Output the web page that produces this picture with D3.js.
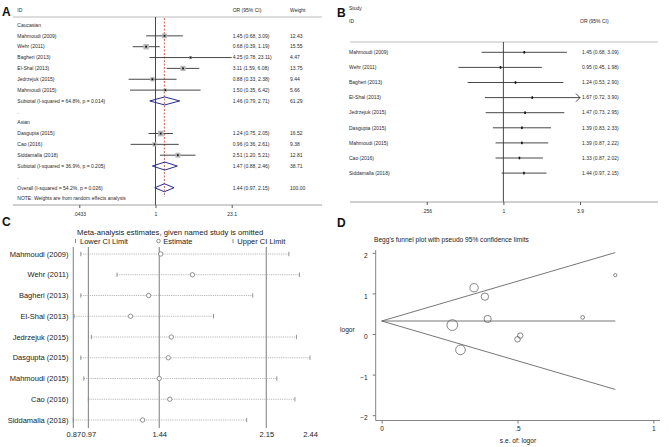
<!DOCTYPE html>
<html><head><meta charset="utf-8">
<script src="https://cdn.jsdelivr.net/npm/d3@7"></script>
<style>body{margin:0;background:#fff}svg{display:block}text{font-family:"Liberation Sans",Arial,sans-serif}</style>
</head><body><svg id="c" width="669" height="447"></svg>
<script>
// ---------- Panel A data ----------
const aLabels = ["Caucasian","Mahmoudi (2009)","Wehr (2011)","Bagheri (2013)","El-Shal (2013)","Jedrzejuk (2015)","Mahmoudi (2015)","Subtotal  (I-squared = 64.8%, p = 0.014)",".","Asian","Dasgupta (2015)","Cao (2016)","Siddamalla (2018)","Subtotal  (I-squared = 36.9%, p = 0.205)",".","Overall  (I-squared = 54.2%, p = 0.026)"];
const aKind = ["group","study","study","study","study","study","study","pool","blank","group","study","study","study","pool","blank","pool"];
const aOR = [null,1.45,0.68,4.25,3.11,0.88,1.50,1.46,null,null,1.24,0.96,2.51,1.47,null,1.44];
const aLo = [null,0.68,0.39,0.78,1.59,0.33,0.35,0.79,null,null,0.75,0.36,1.20,0.88,null,0.97];
const aHi = [null,3.09,1.19,23.11,6.08,2.38,6.42,2.71,null,null,2.05,2.61,5.21,2.46,null,2.15];
const aWeight = [null,12.43,15.55,4.47,13.75,9.44,5.66,61.29,null,null,16.52,9.38,12.81,38.71,null,100.00];
const aTicks = [0.0433,1,23.1];
const aTickLabels = [".0433","1","23.1"];
const aOverall = 1.44;

// ---------- Panel B data ----------
const bLabels = ["Mahmoudi (2009)","Wehr (2011)","Bagheri (2013)","El-Shal (2013)","Jedrzejuk (2015)","Dasgupta (2015)","Mahmoudi (2015)","Cao (2016)","Siddamalla (2018)"];
const bOR = [1.45,0.95,1.24,1.67,1.47,1.39,1.39,1.33,1.44];
const bLo = [0.68,0.45,0.53,0.72,0.73,0.83,0.87,0.87,0.97];
const bHi = [3.09,1.98,2.90,3.90,2.95,2.33,2.22,2.02,2.15];
const bTicks = [0.256,1,3.9];
const bTickLabels = [".256","1","3.9"];

// ---------- Panel C data ----------
const cLabels = ["Mahmoudi (2009)","Wehr (2011)","Bagheri (2013)","El-Shal (2013)","Jedrzejuk (2015)","Dasgupta (2015)","Mahmoudi (2015)","Cao (2016)","Siddamalla (2018)"];
const cLo = [0.92,1.16,0.92,0.875,0.99,0.92,0.94,0.97,0.87];
const cEst = [1.45,1.66,1.37,1.25,1.52,1.50,1.44,1.51,1.33];
const cHi = [2.30,2.37,2.06,1.80,2.35,2.44,2.22,2.34,2.02];
const cRefLines = [0.97,1.44,2.15];
const cTicks = [0.87,0.97,1.44,2.15,2.44];

// ---------- Panel D data ----------
const dLogOR = [0.37,-0.39,1.45,1.14,-0.13,0.41,0.22,-0.04,0.92];
const dSE = [0.39,0.29,0.86,0.34,0.50,0.74,0.26,0.51,0.38];
const dPooled = 0.32;
const dYTicks = [2,1,0,-1,-2];
const dXTicks = [0,0.5,1];
const dXTickLabels = ["0",".5","1"];

const svg = d3.select("#c");
svg.append("rect").attr("width",669).attr("height",447).attr("fill","#fff");
const fmt = d3.format(".2f");
const txtCol = "#2a2a2a";

function panelLetter(t,x,y){svg.append("text").attr("x",x).attr("y",y).attr("font-size",12).attr("font-weight","bold").attr("fill","#111").text(t);}

// ================= Panel A =================
(function(){
  const g = svg.append("g");
  const x = d3.scaleLog().domain([0.0433,23.1]).range([79.3,231.7]);
  const y = d3.scaleLinear().domain([0,16]).range([25,198.6]);
  const fs = 5;
  panelLetter("A",2,16);
  g.append("text").attr("x",17.3).attr("y",10).attr("dy","0.35em").attr("font-size",fs).attr("fill",txtCol).text("ID");
  g.append("text").attr("x",232.7).attr("y",10).attr("dy","0.35em").attr("font-size",fs).attr("fill",txtCol).text("OR (95% CI)");
  g.append("text").attr("x",290).attr("y",10).attr("dy","0.35em").attr("font-size",fs).attr("fill",txtCol).text("Weight");
  g.append("line").attr("x1",13).attr("x2",322).attr("y1",17).attr("y2",17).attr("stroke","#aaa").attr("stroke-width",0.8);
  // vertical null line
  g.append("line").attr("x1",x(1)).attr("x2",x(1)).attr("y1",17).attr("y2",205).attr("stroke","#333").attr("stroke-width",0.9);
  // overall dashed line
  g.append("line").attr("x1",x(aOverall)).attr("x2",x(aOverall)).attr("y1",18).attr("y2",197).attr("stroke","#c0392b").attr("stroke-width",0.8).attr("stroke-dasharray","2,1.5");
  aLabels.forEach((lab,i)=>{
    g.append("text").attr("x",17.3).attr("y",y(i)).attr("dy","0.35em").attr("font-size",fs).attr("fill",txtCol).text(lab);
    if(aOR[i]!=null){
      g.append("text").attr("x",232.7).attr("y",y(i)).attr("dy","0.35em").attr("font-size",fs).attr("fill",txtCol)
        .text(`${fmt(aOR[i])} (${fmt(aLo[i])}, ${fmt(aHi[i])})`);
      g.append("text").attr("x",290).attr("y",y(i)).attr("dy","0.35em").attr("font-size",fs).attr("fill",txtCol).text(fmt(aWeight[i]));
    }
    if(aKind[i]==="study"){
      g.append("line").attr("x1",x(aLo[i])).attr("x2",x(aHi[i])).attr("y1",y(i)).attr("y2",y(i)).attr("stroke","#333").attr("stroke-width",0.9);
      const s = 1.4*Math.sqrt(aWeight[i]);
      g.append("rect").attr("x",x(aOR[i])-s/2).attr("y",y(i)-s/2).attr("width",s).attr("height",s).attr("fill","#b8b8b8");
      g.append("rect").attr("x",x(aOR[i])-0.9).attr("y",y(i)-0.9).attr("width",1.8).attr("height",1.8).attr("fill","#111");
    } else if(aKind[i]==="pool"){
      const h=4;
      g.append("path").attr("d",`M${x(aLo[i])},${y(i)}L${x(aOR[i])},${y(i)-h}L${x(aHi[i])},${y(i)}L${x(aOR[i])},${y(i)+h}Z`)
        .attr("fill","none").attr("stroke","#2b2b8f").attr("stroke-width",1);
    }
  });
  g.append("text").attr("x",17.3).attr("y",y(16)).attr("dy","0.35em").attr("font-size",fs).attr("fill",txtCol).text("NOTE: Weights are from random effects analysis");
  g.append("line").attr("x1",13).attr("x2",322).attr("y1",205).attr("y2",205).attr("stroke","#888").attr("stroke-width",0.8);
  const ax = g.append("g").attr("transform","translate(0,205)")
    .call(d3.axisBottom(x).tickValues(aTicks).tickFormat((d,i)=>aTickLabels[i]).tickSize(3).tickSizeOuter(0));
  ax.select(".domain").remove();
  ax.selectAll("line").attr("stroke","#555");
  ax.selectAll("text").attr("font-size",5).attr("fill",txtCol).attr("font-family","Liberation Sans, Arial, sans-serif").attr("dy","0.9em");
})();

// ================= Panel B =================
(function(){
  const g = svg.append("g");
  const x = d3.scaleLog().domain([0.256,3.9]).range([426.7,580]);
  const y = d3.scaleLinear().domain([0,8]).range([52.3,173.1]);
  const fs = 5;
  panelLetter("B",337,17);
  g.append("text").attr("x",349).attr("y",8.3).attr("dy","0.35em").attr("font-size",fs).attr("fill",txtCol).text("Study");
  g.append("text").attr("x",349).attr("y",21.7).attr("dy","0.35em").attr("font-size",fs).attr("fill",txtCol).text("ID");
  g.append("text").attr("x",580).attr("y",21.7).attr("dy","0.35em").attr("font-size",fs).attr("fill",txtCol).text("OR (95% CI)");
  g.append("line").attr("x1",350).attr("x2",658).attr("y1",42).attr("y2",42).attr("stroke","#aaa").attr("stroke-width",0.8);
  g.append("line").attr("x1",x(1)).attr("x2",x(1)).attr("y1",42).attr("y2",202).attr("stroke","#333").attr("stroke-width",0.9);
  const xmax = x.domain()[1];
  bLabels.forEach((lab,i)=>{
    g.append("text").attr("x",349).attr("y",y(i)).attr("dy","0.35em").attr("font-size",fs).attr("fill",txtCol).text(lab);
    g.append("text").attr("x",582).attr("y",y(i)).attr("dy","0.35em").attr("font-size",fs).attr("fill",txtCol)
      .text(`${fmt(bOR[i])} (${fmt(bLo[i])}, ${fmt(bHi[i])})`);
    const hi = Math.min(bHi[i],xmax);
    g.append("line").attr("x1",x(bLo[i])).attr("x2",x(hi)).attr("y1",y(i)).attr("y2",y(i)).attr("stroke","#333").attr("stroke-width",0.9);
    if(bHi[i]>=xmax){
      g.append("path").attr("d",`M${x(hi)-4},${y(i)-4}L${x(hi)},${y(i)}L${x(hi)-4},${y(i)+4}`).attr("fill","none").attr("stroke","#333").attr("stroke-width",0.9);
    }
    g.append("rect").attr("x",x(bOR[i])-0.8).attr("y",y(i)-1.3).attr("width",1.6).attr("height",2.6).attr("fill","#111");
  });
  g.append("line").attr("x1",350).attr("x2",658).attr("y1",202).attr("y2",202).attr("stroke","#888").attr("stroke-width",0.8);
  const ax = g.append("g").attr("transform","translate(0,202)")
    .call(d3.axisBottom(x).tickValues(bTicks).tickFormat((d,i)=>bTickLabels[i]).tickSize(3).tickSizeOuter(0));
  ax.select(".domain").remove();
  ax.selectAll("line").attr("stroke","#555");
  ax.selectAll("text").attr("font-size",5).attr("fill",txtCol).attr("font-family","Liberation Sans, Arial, sans-serif").attr("dy","0.9em");
})();

// ================= Panel C =================
(function(){
  const g = svg.append("g");
  const x = d3.scaleLinear().domain([0.87,2.44]).range([73.3,310]);
  const y = d3.scaleLinear().domain([0,8]).range([254,420]);
  const fs = 7.5;
  panelLetter("C",2,226);
  g.append("text").attr("x",77).attr("y",232).attr("dy","0.35em").attr("font-size",7.7).attr("fill","#222").text("Meta-analysis estimates, given named study is omitted");
  // legend
  const ly = 241;
  g.append("line").attr("x1",75.5).attr("x2",75.5).attr("y1",ly-2).attr("y2",ly+2).attr("stroke","#888");
  g.append("text").attr("x",80).attr("y",ly).attr("dy","0.35em").attr("font-size",fs).attr("fill","#222").text("Lower CI Limit");
  g.append("circle").attr("cx",158.5).attr("cy",ly).attr("r",1.8).attr("fill","none").attr("stroke","#777").attr("stroke-width",0.8);
  g.append("text").attr("x",163.3).attr("y",ly).attr("dy","0.35em").attr("font-size",fs).attr("fill","#222").text("Estimate");
  g.append("line").attr("x1",233).attr("x2",233).attr("y1",ly-2).attr("y2",ly+2).attr("stroke","#888");
  g.append("text").attr("x",237.3).attr("y",ly).attr("dy","0.35em").attr("font-size",fs).attr("fill","#222").text("Upper CI Limit");
  // y axis & reference lines
  g.append("line").attr("x1",x(0.87)).attr("x2",x(0.87)).attr("y1",247).attr("y2",428).attr("stroke","#888").attr("stroke-width",1.1);
  cRefLines.forEach(v=>{
    g.append("line").attr("x1",x(v)).attr("x2",x(v)).attr("y1",247).attr("y2",428).attr("stroke","#888").attr("stroke-width",1.1);
  });
  cLabels.forEach((lab,i)=>{
    g.append("text").attr("x",68.5).attr("y",y(i)).attr("dy","0.35em").attr("text-anchor","end").attr("font-size",fs).attr("fill","#222").text(lab);
    g.append("line").attr("x1",x(cLo[i])).attr("x2",x(cHi[i])).attr("y1",y(i)).attr("y2",y(i)).attr("stroke","#9a9a9a").attr("stroke-width",0.7).attr("stroke-dasharray","1.2,1");
    [cLo[i],cHi[i]].forEach(v=>{
      g.append("line").attr("x1",x(v)).attr("x2",x(v)).attr("y1",y(i)-2.2).attr("y2",y(i)+2.2).attr("stroke","#888").attr("stroke-width",0.9);
    });
    g.append("circle").attr("cx",x(cEst[i])).attr("cy",y(i)).attr("r",2.2).attr("fill","#fff").attr("stroke","#777").attr("stroke-width",0.8);
  });
  const ax = g.append("g").attr("transform","translate(0,428)")
    .call(d3.axisBottom(x).tickValues(cTicks).tickFormat(d3.format(".2f")).tickSize(0).tickSizeOuter(0));
  ax.select(".domain").remove();
  ax.selectAll("text").attr("font-size",fs).attr("fill","#222").attr("font-family","Liberation Sans, Arial, sans-serif").attr("dy","0.75em");
})();

// ================= Panel D =================
(function(){
  const g = svg.append("g");
  const x = d3.scaleLinear().domain([0,1]).range([381.7,653.3]);
  const y = d3.scaleLinear().domain([-2,2]).range([415.2,252.8]);
  const fs = 6.6;
  panelLetter("D",337,227);
  g.append("text").attr("x",374).attr("y",240).attr("dy","0.35em").attr("font-size",fs).attr("fill","#222").text("Begg's funnel plot with pseudo 95% confidence limits");
  // axes
  g.append("line").attr("x1",375.7).attr("x2",375.7).attr("y1",250).attr("y2",420.5).attr("stroke","#777").attr("stroke-width",0.9);
  g.append("line").attr("x1",375.7).attr("x2",660).attr("y1",420.5).attr("y2",420.5).attr("stroke","#777").attr("stroke-width",0.9);
  const ay = g.append("g").attr("transform","translate(375.7,0)")
    .call(d3.axisLeft(y).tickValues(dYTicks).tickFormat(d3.format("d")).tickSize(3).tickPadding(5).tickSizeOuter(0));
  ay.select(".domain").remove();
  ay.selectAll("line").attr("stroke","#777");
  ay.selectAll("text").attr("font-size",fs).attr("fill","#222").attr("font-family","Liberation Sans, Arial, sans-serif").attr("dy","0.7em");
  const axx = g.append("g").attr("transform","translate(0,420.5)")
    .call(d3.axisBottom(x).tickValues(dXTicks).tickFormat((d,i)=>dXTickLabels[i]).tickSize(3).tickPadding(3).tickSizeOuter(0));
  axx.select(".domain").remove();
  axx.selectAll("line").attr("stroke","#777");
  axx.selectAll("text").attr("font-size",fs).attr("fill","#222").attr("font-family","Liberation Sans, Arial, sans-serif");
  g.append("text").attr("x",518).attr("y",440.5).attr("dy","0.35em").attr("text-anchor","middle").attr("font-size",fs).attr("fill","#222").text("s.e. of: logor");
  g.append("text").attr("x",340).attr("y",330).attr("dy","0.35em").attr("font-size",fs).attr("fill","#222").text("logor");
  // funnel lines
  const seMax = d3.max(dSE);
  const lineStyle = sel=>sel.attr("stroke","#666").attr("stroke-width",0.9);
  lineStyle(g.append("line").attr("x1",x(0)).attr("y1",y(dPooled)).attr("x2",x(seMax)).attr("y2",y(dPooled)));
  lineStyle(g.append("line").attr("x1",x(0)).attr("y1",y(dPooled)).attr("x2",x(seMax)).attr("y2",y(dPooled+1.96*seMax)));
  lineStyle(g.append("line").attr("x1",x(0)).attr("y1",y(dPooled)).attr("x2",x(seMax)).attr("y2",y(dPooled-1.96*seMax)));
  dSE.forEach((se,i)=>{
    g.append("circle").attr("cx",x(se)).attr("cy",y(dLogOR[i])).attr("r",1.4/se).attr("fill","none").attr("stroke","#555").attr("stroke-width",0.7);
  });
})();
</script></body></html>
